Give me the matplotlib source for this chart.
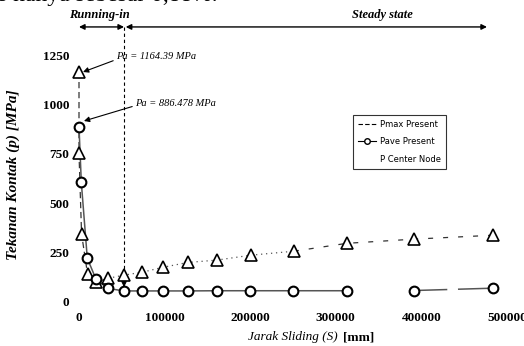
import numpy as np
import matplotlib
matplotlib.use("Agg")
import matplotlib.pyplot as plt
from matplotlib.lines import Line2D

# data
pave_x = [0, 2700, 9700, 19900, 33500, 52600, 73600, 98500, 127000,
          161000, 200000, 250000, 313000, 391000, 484000]
pave_y = [886, 605, 221, 115, 69, 56, 56, 56, 56, 57, 57, 57, 57, 58, 70]

pmax_x = [0, 0, 3000, 10000, 20000, 34000, 52600, 74000, 98500, 127000,
          161000, 201000, 251000, 313000, 391000, 484000]
pmax_y = [1164, 752, 345, 140, 100, 120, 136, 151, 176, 200, 212, 237, 257,
          297, 318, 338]

x_ticks = [0, 100000, 200000, 300000, 400000, 500000]
y_ticks = [0, 250, 500, 750, 1000, 1250]
x_split = 52600

serif = "Liberation Serif"
W, H = 524, 346

fig = plt.figure(figsize=(W / 100, H / 100), dpi=100)
ax = fig.add_axes([79 / W, 1 - 302 / H, 428 / W, (302 - 55) / H])
ax.set_xlim(0, 500000)
ax.set_ylim(0, 1250)
for s in ax.spines.values():
    s.set_visible(False)
ax.set_xticks(x_ticks)
ax.set_yticks(y_ticks)
ax.tick_params(length=0, pad=7)
for lab in ax.get_xticklabels() + ax.get_yticklabels():
    lab.set_fontfamily(serif)
    lab.set_fontweight("bold")
    lab.set_fontsize(9.5)

# Pmax lines: dashed start, dotted middle, loose dashes at end
ax.plot(pmax_x[:6], pmax_y[:6], color="#333333", lw=0.9, ls=(0, (5, 3)), clip_on=False)
ax.plot(pmax_x[5:13], pmax_y[5:13], color="#555555", lw=0.9, ls=(0, (1, 3)), clip_on=False)
ax.plot(pmax_x[12:], pmax_y[12:], color="#333333", lw=0.9, ls=(0, (4, 8)), clip_on=False)
ax.plot(pmax_x, pmax_y, ls="none", marker="^", ms=8, mfc="white", mec="black",
        mew=1.2, clip_on=False, zorder=3)

# Pave line
ax.plot(pave_x[:13], pave_y[:13], color="#555555", lw=1.1, clip_on=False)
ax.plot(pave_x[13:], pave_y[13:], color="#555555", lw=1.1,
        ls=(0, (22, 7, 30, 100)), clip_on=False)
ax.plot(pave_x, pave_y, ls="none", marker="o", ms=7, mfc="white", mec="black",
        mew=1.5, clip_on=False, zorder=4)

# vertical boundary between regimes
ax.plot([x_split, x_split], [1392, 95], color="black", lw=0.8, ls=(0, (3, 2.5)),
        clip_on=False)
ax.annotate("", xy=(x_split, 75), xytext=(x_split, 100), annotation_clip=False,
            arrowprops=dict(arrowstyle="-|>", color="black", lw=0.8,
                            mutation_scale=8))

# regime arrows
ax.annotate("", xy=(0, 1392), xytext=(x_split, 1392), annotation_clip=False,
            arrowprops=dict(arrowstyle="<|-|>", color="black", lw=1.0,
                            mutation_scale=8, shrinkA=0, shrinkB=0))
ax.annotate("", xy=(476600, 1392), xytext=(x_split + 2000, 1392), annotation_clip=False,
            arrowprops=dict(arrowstyle="<|-|>", color="black", lw=1.0,
                            mutation_scale=8, shrinkA=0, shrinkB=0))
ax.text(23400, 1452, "Running-in", ha="center", va="center", fontsize=9,
        fontfamily=serif, fontweight="bold", fontstyle="italic")
ax.text(354000, 1452, "Steady state", ha="center", va="center", fontsize=9,
        fontfamily=serif, fontweight="bold", fontstyle="italic")

# peak pressure callouts
ax.annotate("Pa = 1164.39 MPa", xy=(4700, 1164), xytext=(43200, 1240),
            fontsize=7.5, fontfamily=serif, fontstyle="italic", va="center",
            annotation_clip=False,
            arrowprops=dict(arrowstyle="-|>", color="black", lw=0.8,
                            mutation_scale=8, shrinkA=0, shrinkB=0,
                            relpos=(0, 0.2)))
ax.annotate("Pa = 886.478 MPa", xy=(5800, 916), xytext=(65400, 1007),
            fontsize=7.5, fontfamily=serif, fontstyle="italic", va="center",
            annotation_clip=False,
            arrowprops=dict(arrowstyle="-|>", color="black", lw=0.8,
                            mutation_scale=8, shrinkA=0, shrinkB=0,
                            relpos=(0, 0.2)))

# axis labels
fig.text(13 / W, 1 - 175 / H, "Tekanan Kontak (p) [MPa]", rotation=90,
         ha="center", va="center", fontsize=11, fontfamily=serif,
         fontweight="bold", fontstyle="italic")
fig.text(248 / W, 1 - 337 / H, "Jarak Sliding (S)", ha="left", va="center",
         fontsize=9.5, fontfamily=serif, fontstyle="italic")
fig.text(343 / W, 1 - 337 / H, "[mm]", ha="left", va="center",
         fontsize=9.5, fontfamily=serif, fontweight="bold")

# cut-off text from the page above the figure
fig.text(-2 / W, 1 - 1 / H, "s hanya sebesar 0,88%.", ha="left", va="baseline",
         fontsize=17, fontfamily=serif)

# legend
handles = [
    Line2D([], [], color="black", lw=0.8, ls=(0, (4, 2))),
    Line2D([], [], color="black", lw=0.8, marker="o", ms=4, mfc="white", mec="black"),
    Line2D([], [], color="none"),
]
labels = ["Pmax Present", "Pave Present", "P Center Node"]
leg = fig.legend(handles, labels, loc="upper left",
                 bbox_to_anchor=(353 / W, 1 - 115 / H), fontsize=6,
                 frameon=True, fancybox=False, handlelength=2.2,
                 borderpad=0.6, labelspacing=1.0, handletextpad=0.4,
                 borderaxespad=0)
leg.get_frame().set_edgecolor("black")
leg.get_frame().set_linewidth(0.8)

fig.savefig("out.png", dpi=100)
